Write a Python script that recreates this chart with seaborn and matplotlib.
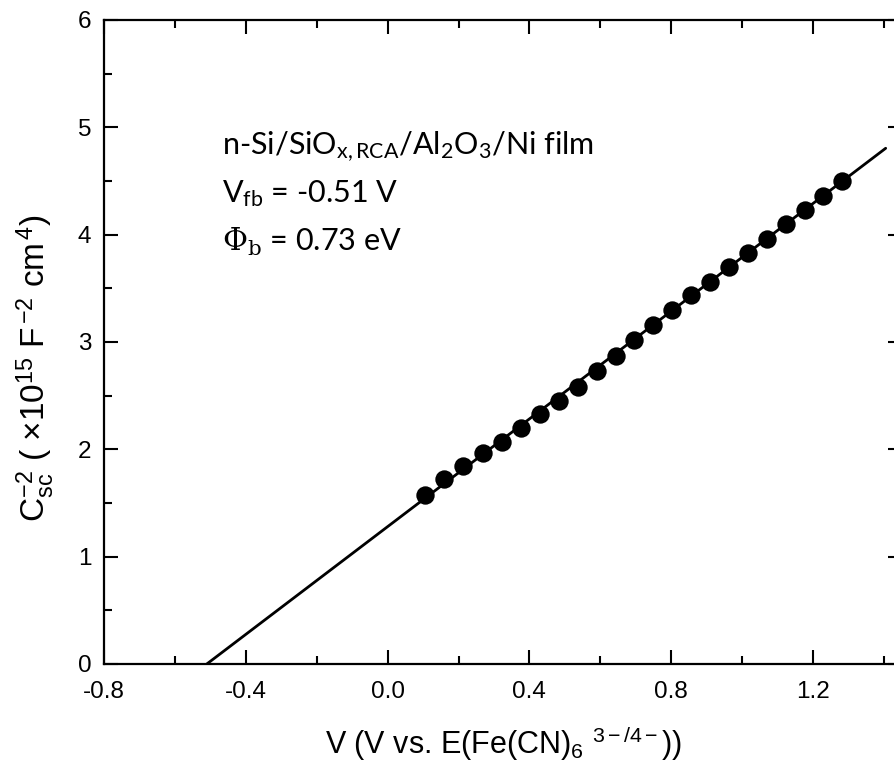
import numpy as np
import pandas as pd
import matplotlib
matplotlib.use("Agg")
import matplotlib.pyplot as plt
import seaborn as sns

# Data
v_data = [0.106, 0.159, 0.214, 0.269, 0.323, 0.376, 0.430, 0.483, 0.537, 0.591,
          0.644, 0.696, 0.750, 0.802, 0.856, 0.909, 0.963, 1.017, 1.070, 1.124,
          1.176, 1.228, 1.282]
c_data = [1.575, 1.724, 1.845, 1.969, 2.071, 2.196, 2.327, 2.450, 2.584, 2.730,
          2.870, 3.019, 3.158, 3.298, 3.438, 3.562, 3.702, 3.832, 3.960, 4.100,
          4.230, 4.360, 4.500]
fit_v = [-0.51, 1.405]
fit_c = [0.0, 4.805]
x_ticks = [-0.8, -0.4, 0.0, 0.4, 0.8, 1.2]
x_ticklabels = ["-0.8", "-0.4", "0.0", "0.4", "0.8", "1.2"]
y_ticks = [0, 1, 2, 3, 4, 5, 6]

sns.set_theme(style="ticks")
plt.rcParams["font.family"] = ["Liberation Sans", "DejaVu Sans"]
plt.rcParams["mathtext.fontset"] = "custom"
plt.rcParams["mathtext.rm"] = "Lato"
plt.rcParams["mathtext.it"] = "Lato:italic"
plt.rcParams["mathtext.bf"] = "Lato:bold"
plt.rcParams["mathtext.sf"] = "Liberation Sans"
plt.rcParams["mathtext.tt"] = "DejaVu Serif"
plt.rcParams["text.color"] = "black"
plt.rcParams["axes.labelcolor"] = "black"

fig = plt.figure(figsize=(8.95, 7.70), dpi=100)
ax = fig.add_axes([104 / 895, 1 - 664 / 770, (902 - 104) / 895, (664 - 20) / 770])

df_pts = pd.DataFrame({"V": v_data, "C": c_data})
df_fit = pd.DataFrame({"V": fit_v, "C": fit_c})

sns.lineplot(data=df_fit, x="V", y="C", ax=ax, color="black", linewidth=2.0, zorder=2)
sns.scatterplot(data=df_pts, x="V", y="C", ax=ax, color="black", s=175,
                edgecolor="black", linewidth=0, zorder=3)

ax.set_xlim(-0.8, 1.451)
ax.set_ylim(0, 6)
ax.set_xticks(x_ticks)
ax.set_xticklabels(x_ticklabels)
ax.set_xticks([-0.6, -0.2, 0.2, 0.6, 1.0, 1.4], minor=True)
ax.set_yticks(y_ticks)
ax.set_yticks([0.5, 1.5, 2.5, 3.5, 4.5, 5.5], minor=True)

for s in ax.spines.values():
    s.set_linewidth(1.6)
    s.set_color("black")
    s.set_visible(True)

ax.tick_params(which="major", direction="in", length=10, width=1.5,
               top=True, right=True, labelsize=17.5, colors="black")
ax.tick_params(axis="x", which="major", pad=12)
ax.tick_params(axis="y", which="major", pad=9)
ax.tick_params(which="minor", direction="in", length=5.5, width=1.5,
               top=True, right=True, colors="black")

ax.set_xlabel(r"V (V vs. E(Fe(CN)$_\mathsf{6}$ $^\mathsf{3-/4-}$))", fontsize=22)
ax.set_ylabel(r"C$_\mathsf{sc}^{\mathsf{-2}}$ ( ×10$^{\mathsf{15}}$ F$^{\,\mathsf{-2}}$ cm$^{\,\mathsf{4}}$)",
              fontsize=24)
ax.xaxis.set_label_coords(0.5, (664 - 725) / 644)
ax.yaxis.set_label_coords((57 - 104) / 798, (664 - 368) / 644)

tfont = dict(fontsize=22, family="Lato", color="black", va="baseline", ha="left")
ax.text(-0.467, 4.75, r"n-Si/SiO$_\mathrm{x,RCA}$/Al$_\mathrm{2}$O$_\mathrm{3}$/Ni film", **tfont)
ax.text(-0.467, 4.30, r"V$_\mathrm{fb}$ = -0.51 V", **tfont)
ax.text(-0.467, 3.85, r"$\mathtt{\Phi_b}$ = 0.73 eV", **tfont)

fig.savefig("out.png", dpi=100)
